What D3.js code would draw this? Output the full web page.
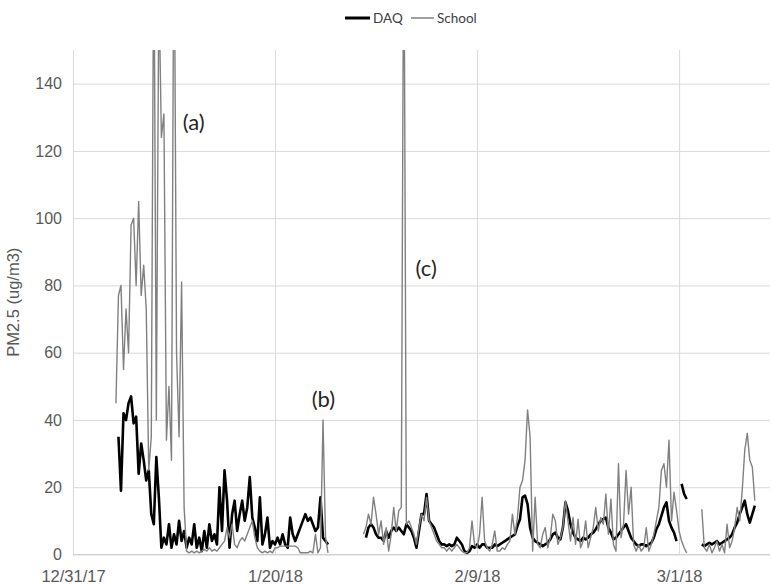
<!DOCTYPE html>
<html>
<head>
<meta charset="utf-8">
<title>PM2.5 DAQ vs School</title>
<script src="https://cdn.jsdelivr.net/npm/d3@7"></script>
<style>
  body { margin: 0; background: #fff; }
</style>
</head>
<body>
<svg width="772" height="584"></svg>
<script>
// ticks
var yTicks = [0, 20, 40, 60, 80, 100, 120, 140];
var xTickDates = [new Date(2017, 11, 31), new Date(2018, 0, 20), new Date(2018, 1, 9), new Date(2018, 2, 1)];
var xTickLabels = ["12/31/17", "1/20/18", "2/9/18", "3/1/18"];

// readings every 6 hours from 1/4/18 00:00, one row = one day
var seriesStart = new Date(2018, 0, 4);
var stepHours = 6;

var school = [
  null, 45, 77, 80,     55, 73, 60, 98,      100, 80, 105, 77,    86, 73, 25, 35,
  190, 40, 170, 124,    131, 34, 50, 28,     200, 60, 35, 81,     14, 1, 0.5, 1,
  0.5, 1, 0.5, 1,       1.5, 1, 2, 1,        1.5, 1, 2, 3,        4, 8, 5, 9,
  3, 2, 4, 5,           4, 6, 8, 10,         5, 2, 1, 0.5,        1, 0.5, 1, 0.5,
  2, 2, 2.5, 2.5,       2.5, 2.5, 2.5, 2.5,  2.5, 2, 0.5, 0.5,    0.5, 0.5, 1, 0.5,
  6, 0.5, 2, 40,        5, 0.5, null, null,  null, null, null, null, null, null, null, null,
  null, null, null, 6,  8, 12, 9, 17,        12, 6, 10, 3,        8, 1, 6, 14,
  7, 13, 14, 200,       9, 10, 8, 6,         3, 8, 12, 10,        17, 10, 8, 6,
  4, 3, 2, 2,           1, 2, 1, 2,          3, 2, 1, 0.5,        0.5, 2, 10, 3,
  2, 6, 17, 4,          2, 1, 3, 7,          1, 1, 2, 1.5,        3, 4, 12, 6,
  11, 20, 22, 28,       43, 35, 1, 17,       3, 2, 6, 8,          2, 5, 12, 10,
  3, 5, 8, 16,          10, 4, 11, 3,        10.5, 2, 4, 10,      2, 5, 8, 14,
  7, 11, 9, 18,         6, 16.5, 3, 1,       27, 5, 9, 25,        12, 20, 3, 1,
  3, 1, 2, 8,           1, 3, 6, 10,         14, 25, 27, 20,      34, 10, 18.5, 13,
  7, 4, 2, 0.5,         null, null, null, null, null, 13.5, 2, 1, 3, 0.5, 2, 4,
  1, 3, 0.5, 9,         2, 4, 8, 14,         10, 19, 31, 36,      28, 26, 16, null
];

var daq = [
  null, null, 35, 19,   42, 40, 45, 47,      39, 41, 24, 33,      28, 22, 25, 12,
  9, 29, 17, 2,         5, 3, 9, 2,          6, 3, 10, 4,         7, 2, 5, 3,
  9, 2, 5, 1,           7, 2, 9, 4,          6, 3, 20, 7,         25, 16, 2, 12,
  16, 7, 12, 16,        10, 14, 23, 11,      8, 4, 17, 3,         6, 11, 2, 4,
  3, 5, 3, 6,           3, 2, 11, 6,         4, 6, 8, 10,         12, 10, 11, 9,
  7, 8, 17, 5,          4, 3, null, null,    null, null, null, null, null, null, null, null,
  null, null, null, null, 5, 8, 9, 8,        6, 5, 5, 4,          7, 5, 7, 8,
  7, 8, 7, 6,           9, 8, 7, 5,          2, 7, 12, 12,        18, 10, 9, 8,
  6, 4, 3, 3,           2.5, 3, 2.5, 3,      5, 4, 3, 1,          0.5, 1, 2.5, 2,
  3, 2, 3, 3,           2, 2, 2, 3,          2.5, 3, 3.5, 4,      4.5, 5, 5.5, 6,
  8.5, 10.5, 17, 17.5,  15, 8, 5, 4,         3.5, 3, 2.5, 3,      3.5, 4.5, 6, 6.5,
  5, 4.5, 8, 15.5,      13, 9, 6.5, 5,       4.5, 4, 5, 4.5,      5, 6, 6.5, 7.5,
  9, 10, 10.5, 11,      8, 6.5, 4.5, 5,      6, 7, 8, 9,          7, 5, 4, 3,
  2.5, 3, 3, 2.5,       3, 3.5, 5, 7.5,      9, 11.5, 14, 15.5,   10, 8, 6.5, 4,
  null, 21, 18, 16.5,   null, null, null, null, null, 3, 2.5, 3, 3.5, 3, 3.5, 4,
  3, 3.5, 4, 4.5,       5, 6, 8, 9.5,        12, 14, 16, 12,      9.5, 12, 14.5, null
];

var notes = [
  { text: "(a)", date: new Date(2018, 0, 10, 21), value: 126.2 },
  { text: "(b)", date: new Date(2018, 0, 23, 15), value: 44 },
  { text: "(c)", date: new Date(2018, 1, 2, 22), value: 82.8 }
];

var svg = d3.select("svg");
var plotLeft = 73, plotRight = 770, plotTop = 50, plotBottom = 554.5;

var x = d3.scaleTime()
  .domain([new Date(2017, 11, 31), new Date(2018, 2, 10)])
  .range([plotLeft, plotRight]);
var y = d3.scaleLinear().domain([0, 150]).range([plotBottom, plotTop]);

var dates = school.map(function (d, i) { return d3.timeHour.offset(seriesStart, i * stepHours); });

// grid + y axis
var yAxis = svg.append("g")
  .attr("transform", "translate(" + plotLeft + ",0)")
  .call(d3.axisLeft(y).tickValues(yTicks).tickSize(-(plotRight - plotLeft)).tickPadding(11));
yAxis.select(".domain").remove();
yAxis.selectAll("line").attr("stroke", "#d9d9d9");
yAxis.selectAll("text")
  .attr("fill", "#595959")
  .style("font-family", "'Liberation Sans', Arial, sans-serif")
  .style("font-size", "16px");

var xAxis = svg.append("g")
  .attr("transform", "translate(0," + plotBottom + ")")
  .call(d3.axisBottom(x).tickValues(xTickDates)
    .tickFormat(function (d, i) { return xTickLabels[i]; })
    .tickSize(-(plotBottom - plotTop)));
xAxis.select(".domain").remove();
xAxis.selectAll("line").attr("stroke", "#d9d9d9");
xAxis.selectAll("text")
  .attr("y", 27)
  .attr("dy", null)
  .attr("fill", "#595959")
  .style("font-family", "'Liberation Sans', Arial, sans-serif")
  .style("font-size", "16.5px");

// baseline
svg.append("line")
  .attr("x1", plotLeft).attr("x2", plotRight)
  .attr("y1", y(0)).attr("y2", y(0))
  .attr("stroke", "#cfcfcf");

// y title
svg.append("text")
  .attr("transform", "translate(19," + (plotTop + plotBottom) / 2 + ") rotate(-90)")
  .attr("text-anchor", "middle")
  .attr("fill", "#595959")
  .style("font-family", "'Liberation Sans', Arial, sans-serif")
  .style("font-size", "16.5px")
  .text("PM2.5 (ug/m3)");

svg.append("clipPath").attr("id", "plotClip")
  .append("rect")
  .attr("x", plotLeft).attr("y", plotTop)
  .attr("width", plotRight - plotLeft).attr("height", plotBottom - plotTop + 3);

var line = d3.line()
  .defined(function (d) { return d != null; })
  .x(function (d, i) { return x(dates[i]); })
  .y(function (d) { return y(d); });

var plot = svg.append("g").attr("clip-path", "url(#plotClip)");

plot.append("path")
  .datum(daq)
  .attr("fill", "none")
  .attr("stroke", "#000")
  .attr("stroke-width", 2.6)
  .attr("stroke-linejoin", "round")
  .attr("d", line);

plot.append("path")
  .datum(school)
  .attr("fill", "none")
  .attr("stroke", "#808080")
  .attr("stroke-width", 1.4)
  .attr("stroke-linejoin", "round")
  .attr("d", line);

// annotations
svg.selectAll(".note")
  .data(notes)
  .enter().append("text")
  .attr("class", "note")
  .attr("x", function (d) { return x(d.date); })
  .attr("y", function (d) { return y(d.value); })
  .attr("fill", "#262626")
  .style("font-family", "Lato, 'Open Sans', sans-serif")
  .style("font-size", "22px")
  .text(function (d) { return d.text; });

// legend
var legend = svg.append("g").style("font-family", "Lato, 'Open Sans', sans-serif").style("font-size", "13.5px");
legend.append("line").attr("x1", 345).attr("x2", 370).attr("y1", 18).attr("y2", 18)
  .attr("stroke", "#000").attr("stroke-width", 3);
legend.append("text").attr("x", 373).attr("y", 23).attr("fill", "#404040").text("DAQ");
legend.append("line").attr("x1", 411).attr("x2", 434).attr("y1", 18).attr("y2", 18)
  .attr("stroke", "#808080").attr("stroke-width", 1.5);
legend.append("text").attr("x", 437).attr("y", 23).attr("fill", "#404040").text("School");
</script>
</body>
</html>
